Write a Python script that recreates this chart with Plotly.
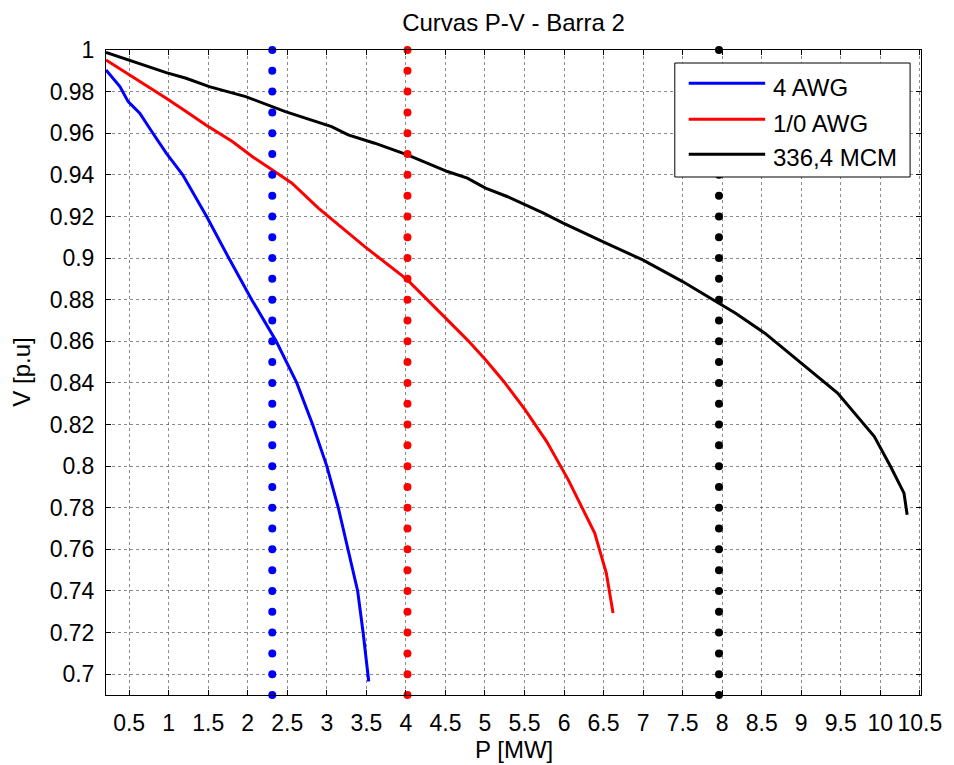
import plotly.graph_objects as go

# ---------------- data ----------------
p_4awg = [0.207, 0.383, 0.487, 0.634, 0.80, 0.969, 1.177, 1.48, 1.76, 2.05, 2.36,
          2.496, 2.62, 2.82, 3.0, 3.145, 3.27, 3.39, 3.46, 3.53]
v_4awg = [0.9904, 0.9824, 0.9752, 0.9696, 0.96, 0.9504, 0.94, 0.92, 0.90, 0.88, 0.86,
          0.8495, 0.84, 0.82, 0.80, 0.78, 0.76, 0.74, 0.7197, 0.6965]

p_10awg = [0.207, 0.508, 0.969, 1.22, 1.47, 1.805, 2.056, 2.307, 2.559, 2.893, 3.48, 4.02,
           4.526, 4.777, 5.007, 5.238, 5.509, 5.781, 6.054, 6.388, 6.535, 6.62]
v_10awg = [0.9952, 0.988, 0.9768, 0.9704, 0.964, 0.956, 0.9488, 0.9424, 0.936, 0.924, 0.9055, 0.8895,
           0.8703, 0.8607, 0.8511, 0.8407, 0.827, 0.8118, 0.7934, 0.7678, 0.7486, 0.7294]

p_336 = [0.207, 0.508, 0.675, 0.969, 1.22, 1.513, 1.974, 2.307, 2.476, 3.06, 3.27, 3.606, 4.02,
         4.526, 4.777, 5.007, 5.28, 5.74, 5.99, 6.49, 6.996, 7.5, 7.957, 8.17, 8.54, 9.0, 9.46,
         9.925, 10.13, 10.30, 10.34]
v_336 = [0.9988, 0.9949, 0.9928, 0.9891, 0.9864, 0.9824, 0.9776, 0.9728, 0.9704, 0.9632, 0.9592,
         0.9552, 0.9496, 0.9416, 0.9384, 0.9336, 0.9296, 0.9216, 0.9168, 0.9079, 0.8991, 0.8887,
         0.8783, 0.8735, 0.8639, 0.8495, 0.8351, 0.8142, 0.7998, 0.787, 0.7766]

# vertical dotted limit lines (P limit of each conductor)
p_lim = [2.31, 4.02, 7.96]
v_dots = [0.69, 0.70, 0.71, 0.72, 0.73, 0.74, 0.75, 0.76, 0.77, 0.78, 0.79, 0.80, 0.81, 0.82,
          0.83, 0.84, 0.85, 0.86, 0.87, 0.88, 0.89, 0.90, 0.91, 0.92, 0.93, 0.94, 0.95, 0.96,
          0.97, 0.98, 0.99, 1.00]

names = ["4 AWG", "1/0 AWG", "336,4 MCM"]
colors = ["#0000ff", "#ff0000", "#000000"]

x_ticks = [0.5, 1, 1.5, 2, 2.5, 3, 3.5, 4, 4.5, 5, 5.5, 6, 6.5, 7, 7.5, 8, 8.5, 9, 9.5, 10, 10.5]
x_labels = ["0.5", "1", "1.5", "2", "2.5", "3", "3.5", "4", "4.5", "5", "5.5", "6", "6.5",
            "7", "7.5", "8", "8.5", "9", "9.5", "10", "10.5"]
y_ticks = [0.70, 0.72, 0.74, 0.76, 0.78, 0.80, 0.82, 0.84, 0.86, 0.88, 0.90, 0.92, 0.94, 0.96, 0.98, 1.0]
y_labels = ["0.7", "0.72", "0.74", "0.76", "0.78", "0.8", "0.82", "0.84", "0.86", "0.88", "0.9",
            "0.92", "0.94", "0.96", "0.98", "1"]

FONT = "Liberation Sans, Arial, sans-serif"

fig = go.Figure()
curves = [(p_4awg, v_4awg), (p_10awg, v_10awg), (p_336, v_336)]
for (px, vy), nm, c in zip(curves, names, colors):
    fig.add_trace(go.Scatter(x=px, y=vy, mode="lines", name=nm,
                             line=dict(color=c, width=3), showlegend=False))
for pl, c in zip(p_lim, colors):
    fig.add_trace(go.Scatter(x=[pl] * len(v_dots), y=v_dots, mode="markers",
                             marker=dict(color=c, size=8), cliponaxis=False,
                             showlegend=False))

W, H = 954, 765
L, R, T, B = 106, 27, 50, 70
pw, ph = W - L - R, H - T - B


def fx(px):
    return (px - L) / pw


def fy(py):
    return 1 - (py - T) / ph


# custom legend (MATLAB style)
shapes = [dict(type="rect", xref="paper", yref="paper", x0=fx(679), x1=fx(916),
               y0=fy(177), y1=fy(63), fillcolor="white", line=dict(color="black", width=1),
               layer="above")]
annotations = []
rows_line = [83.3, 119.3, 154.3]
rows_text = [88.0, 123.5, 158.0]
for nm, c, yl, yt in zip(names, colors, rows_line, rows_text):
    shapes.append(dict(type="line", xref="paper", yref="paper", x0=fx(693), x1=fx(770),
                       y0=fy(yl), y1=fy(yl), line=dict(color=c, width=3), layer="above"))
    annotations.append(dict(text=nm, xref="paper", yref="paper", x=fx(776), y=fy(yt),
                            xanchor="left", yanchor="middle", showarrow=False,
                            font=dict(family=FONT, size=24, color="black")))

# axis labels
annotations.append(dict(text="P [MW]", xref="paper", yref="paper", x=0.5, y=fy(749),
                        xanchor="center", yanchor="middle", showarrow=False,
                        font=dict(family=FONT, size=24, color="black")))
annotations.append(dict(text="V [p.u]", xref="paper", yref="paper", x=fx(20), y=fy(372),
                        xanchor="center", yanchor="middle", showarrow=False, textangle=-90,
                        font=dict(family=FONT, size=24, color="black")))

axis_common = dict(showline=True, linecolor="black", linewidth=1, mirror="ticks",
                   ticks="inside", ticklen=5, tickcolor="black", showgrid=True,
                   gridcolor="rgba(90,90,90,0.7)", griddash="dot", gridwidth=1,
                   zeroline=False, tickfont=dict(family=FONT, size=23, color="black"))

fig.update_layout(
    width=W, height=H,
    margin=dict(l=L, r=R, t=T, b=B, pad=0),
    paper_bgcolor="white", plot_bgcolor="white",
    title=dict(text="Curvas P-V - Barra 2", x=0.5, xref="paper", xanchor="center",
               y=1 - 23 / H, yref="container", yanchor="middle",
               font=dict(family=FONT, size=24, color="black")),
    xaxis=dict(range=[0.207, 10.515], tickvals=x_ticks, ticktext=x_labels,
               ticklabelstandoff=7, **axis_common),
    yaxis=dict(range=[0.69, 1.0], tickvals=y_ticks, ticktext=y_labels,
               ticklabelstandoff=6, **axis_common),
    shapes=shapes, annotations=annotations, showlegend=False,
)

fig.write_html("out.html")
